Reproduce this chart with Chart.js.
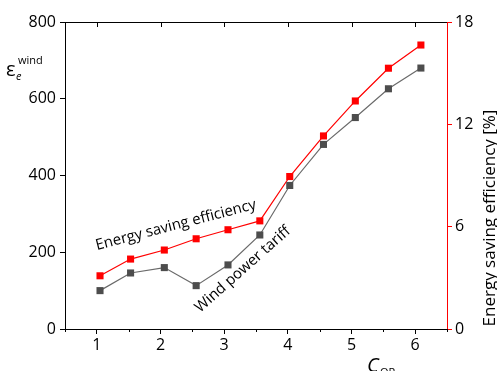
<!DOCTYPE html>
<html>
<head>
<meta charset="utf-8">
<script src="https://cdn.jsdelivr.net/npm/chart.js@4"></script>
<style>
  html, body { margin: 0; padding: 0; background: #fff; }
</style>
</head>
<body>
<canvas id="myChart" width="497" height="371"></canvas>
<script>
// values
const cop = [1.05, 1.53, 2.06, 2.56, 3.06, 3.56, 4.03, 4.56, 5.06, 5.58, 6.09];
const windTariff = [100, 146, 160, 113, 167, 245, 374, 481, 551, 626, 680];
const savingEff = [3.12, 4.10, 4.63, 5.29, 5.82, 6.34, 8.94, 11.32, 13.37, 15.29, 16.65];

const xTicks = [1, 2, 3, 4, 5, 6];
const xMinorTicks = [0.5, 1.5, 2.5, 3.5, 4.5, 5.5, 6.5];
const leftTicks = [0, 200, 400, 600, 800];
const rightTicks = [0, 6, 12, 18];

const FONT = "'Open Sans', 'Noto Sans', sans-serif";

const setTicks = list => scale => { scale.ticks = list.map(v => ({ value: v })); };

const extras = {
  id: 'extras',
  afterDraw(chart) {
    const ctx = chart.ctx;
    const a = chart.chartArea;
    const x = chart.scales.x;
    const y = chart.scales.y;
    ctx.save();
    // top frame + inward ticks
    ctx.strokeStyle = '#000';
    ctx.lineWidth = 1;
    ctx.beginPath();
    ctx.moveTo(a.left, a.top + 0.5);
    ctx.lineTo(a.right, a.top + 0.5);
    xTicks.forEach(v => {
      const px = Math.round(x.getPixelForValue(v)) + 0.5;
      ctx.moveTo(px, a.top);
      ctx.lineTo(px, a.top + 5);
    });
    // minor ticks on the bottom axis
    xMinorTicks.forEach(v => {
      const px = Math.round(x.getPixelForValue(v)) + 0.5;
      ctx.moveTo(px, a.bottom);
      ctx.lineTo(px, a.bottom + 3);
    });
    ctx.stroke();

    ctx.fillStyle = '#000';
    // left axis label  ε_e^wind
    ctx.textBaseline = 'alphabetic';
    ctx.textAlign = 'left';
    ctx.font = '20px ' + FONT;
    ctx.fillText('ε', 6, 76);
    ctx.font = 'italic 11px ' + FONT;
    ctx.fillText('e', 16, 80);
    ctx.font = '11px ' + FONT;
    ctx.fillText('wind', 18, 64);

    // x axis label  C_OP
    ctx.font = 'italic 20px ' + FONT;
    ctx.fillText('C', 367, 372);
    ctx.font = '11px ' + FONT;
    ctx.fillText('OP', 380, 376);

    // right axis title
    ctx.save();
    ctx.translate(495, 218);
    ctx.rotate(-Math.PI / 2);
    ctx.textAlign = 'center';
    ctx.font = '17px ' + FONT;
    ctx.fillText('Energy saving efficiency [%]', 0, 0);
    ctx.restore();

    // curve annotations
    ctx.font = '15px ' + FONT;
    ctx.save();
    ctx.translate(97, 250);
    ctx.rotate(-14.5 * Math.PI / 180);
    ctx.textAlign = 'left';
    ctx.fillText('Energy saving efficiency', 0, 0);
    ctx.restore();

    ctx.save();
    ctx.translate(200, 313);
    ctx.rotate(-41.5 * Math.PI / 180);
    ctx.textAlign = 'left';
    ctx.fillText('Wind power tariff', 0, 0);
    ctx.restore();

    ctx.restore();
  }
};

new Chart(document.getElementById('myChart'), {
  type: 'scatter',
  data: {
    datasets: [
      {
        label: 'Wind power tariff',
        data: cop.map((c, i) => ({ x: c, y: windTariff[i] })),
        yAxisID: 'y',
        showLine: true,
        borderColor: '#6a6a6a',
        borderWidth: 1.2,
        backgroundColor: '#4d4d4d',
        pointStyle: 'rect',
        pointRadius: 5,
        pointBorderWidth: 0,
        pointBorderColor: '#4d4d4d'
      },
      {
        label: 'Energy saving efficiency',
        data: cop.map((c, i) => ({ x: c, y: savingEff[i] })),
        yAxisID: 'y1',
        showLine: true,
        borderColor: '#ff0000',
        borderWidth: 1.2,
        backgroundColor: '#ff0000',
        pointStyle: 'rect',
        pointRadius: 5,
        pointBorderWidth: 0,
        pointBorderColor: '#ff0000'
      }
    ]
  },
  options: {
    responsive: false,
    animation: false,
    layout: { padding: { top: 22, left: 0, right: 0, bottom: 0 } },
    plugins: { legend: { display: false }, tooltip: { enabled: false } },
    scales: {
      x: {
        type: 'linear',
        min: 0.5,
        max: 6.5,
        afterBuildTicks: setTicks(xTicks),
        afterFit: s => { s.height = 42; },
        border: { color: '#000', width: 1 },
        grid: { drawOnChartArea: false, tickLength: 5, tickColor: '#000' },
        ticks: { color: '#000', font: { family: FONT, size: 16 }, padding: 2, maxRotation: 0 }
      },
      y: {
        position: 'left',
        min: 0,
        max: 800,
        afterBuildTicks: setTicks(leftTicks),
        afterFit: s => { s.width = 65; },
        border: { color: '#000', width: 1 },
        grid: { drawOnChartArea: false, tickLength: 5, tickColor: '#000' },
        ticks: { color: '#000', font: { family: FONT, size: 16 }, padding: 4 }
      },
      y1: {
        position: 'right',
        min: 0,
        max: 18,
        afterBuildTicks: setTicks(rightTicks),
        afterFit: s => { s.width = 50; },
        border: { color: '#ff0000', width: 1 },
        grid: { drawOnChartArea: false, tickLength: 5, tickColor: '#ff0000' },
        ticks: { color: '#000', font: { family: FONT, size: 16 }, padding: 3 }
      }
    }
  },
  plugins: [extras]
});
</script>
</body>
</html>
